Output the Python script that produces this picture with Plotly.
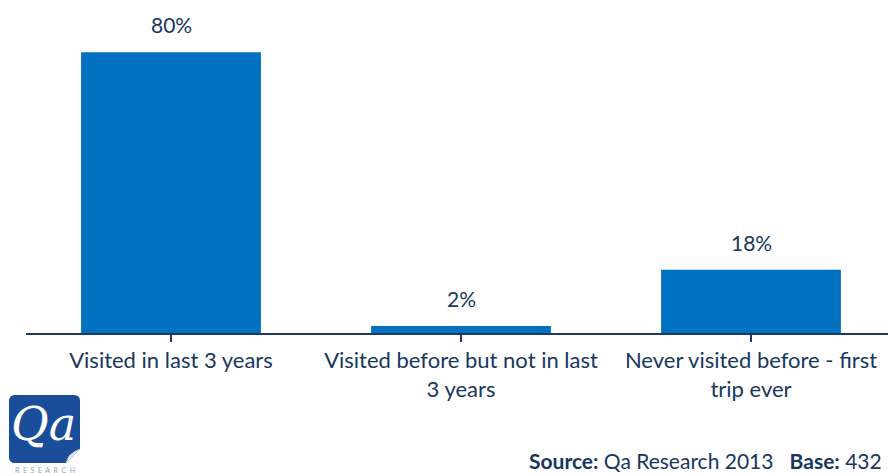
import plotly.graph_objects as go

# Survey responses: previous visits
categories = ["Visited in last 3 years",
              "Visited before but not in last<br>3 years",
              "Never visited before - first<br>trip ever"]
values = [80, 2, 18]
value_labels = ["80%", "2%", "18%"]

BAR = "#0070C0"
NAVY = "#17375E"
FONT = "Lato, 'Open Sans', sans-serif"

W, H = 888, 473
L, B = 26, 140          # plot area: left offset and bottom margin (px)
plot_w = W - L
plot_h = H - B

fig = go.Figure()
fig.add_trace(go.Bar(
    x=list(range(len(categories))),
    y=values,
    width=0.62,
    marker=dict(color=BAR, line=dict(width=0)),
    hoverinfo="skip",
))

# value labels above each bar
for i, (v, t) in enumerate(zip(values, value_labels)):
    fig.add_annotation(x=i, y=v, text=t, showarrow=False,
                       xref="x", yref="y", xanchor="center", yanchor="bottom",
                       yshift=13,
                       font=dict(family=FONT, size=21, color=NAVY))


def px_x(p):
    return (p - L) / plot_w


def px_y(p):
    return (plot_h - p) / plot_h


# logo block bottom-left
x0, x1, y0, y1, r = 9, 80, 395, 463, 6
path = (f"M {px_x(x0 + r)} {px_y(y0)} L {px_x(x1 - r)} {px_y(y0)} "
        f"Q {px_x(x1)} {px_y(y0)} {px_x(x1)} {px_y(y0 + r)} "
        f"L {px_x(x1)} {px_y(y1 - 14)} L {px_x(x1 - 14)} {px_y(y1)} "
        f"L {px_x(x0 + r)} {px_y(y1)} "
        f"Q {px_x(x0)} {px_y(y1)} {px_x(x0)} {px_y(y1 - r)} "
        f"L {px_x(x0)} {px_y(y0 + r)} "
        f"Q {px_x(x0)} {px_y(y0)} {px_x(x0 + r)} {px_y(y0)} Z")
fig.add_shape(type="path", path=path, xref="paper", yref="paper",
              fillcolor="#1A4E9A", line=dict(width=0), layer="above")
curl = (f"M {px_x(x1)} {px_y(y1 - 14)} L {px_x(x1 - 14)} {px_y(y1)} "
        f"Q {px_x(x1 - 12)} {px_y(y1 - 10)} {px_x(x1)} {px_y(y1 - 14)} Z")
fig.add_shape(type="path", path=curl, xref="paper", yref="paper",
              fillcolor="#E8ECF2", line=dict(width=0.5, color="#B8C2D0"), layer="above")
fig.add_annotation(x=px_x(43), y=px_y(424), xref="paper", yref="paper",
                   xanchor="center", yanchor="middle",
                   text="<i>Qa</i>", showarrow=False,
                   font=dict(family="DejaVu Serif", size=46, color="white"))
fig.add_annotation(x=px_x(45), y=px_y(470), xref="paper", yref="paper",
                   xanchor="center", yanchor="middle",
                   text="\u00a0\u00a0".join("RESEARCH"), showarrow=False,
                   font=dict(family=FONT, size=7, color="#9AA3AE"))

# source line
fig.add_annotation(x=px_x(884), y=px_y(460), xref="paper", yref="paper",
                   xanchor="right", yanchor="middle", showarrow=False,
                   text="<b>Source:</b> Qa Research 2013   <b>Base:</b> 432",
                   font=dict(family=FONT, size=21, color=NAVY))

fig.update_layout(
    width=W, height=H,
    margin=dict(l=L, r=0, t=0, b=B),
    paper_bgcolor="white", plot_bgcolor="white",
    showlegend=False,
    xaxis=dict(
        tickmode="array",
        tickvals=list(range(len(categories))),
        ticktext=categories,
        range=[-0.5, -0.5 + plot_w / 290],
        tickson="boundaries",
        ticks="outside", ticklen=7, tickwidth=2, tickcolor="#1F3864",
        showline=True, linecolor="#1F3864", linewidth=2,
        showgrid=False, zeroline=False,
        tickfont=dict(family=FONT, size=22, color=NAVY),
        tickangle=0,
        automargin=False,
    ),
    yaxis=dict(range=[0, plot_h / 3.51], visible=False, showgrid=False,
               zeroline=False),
    font=dict(family=FONT, color=NAVY),
)

fig.write_html("out.html")
